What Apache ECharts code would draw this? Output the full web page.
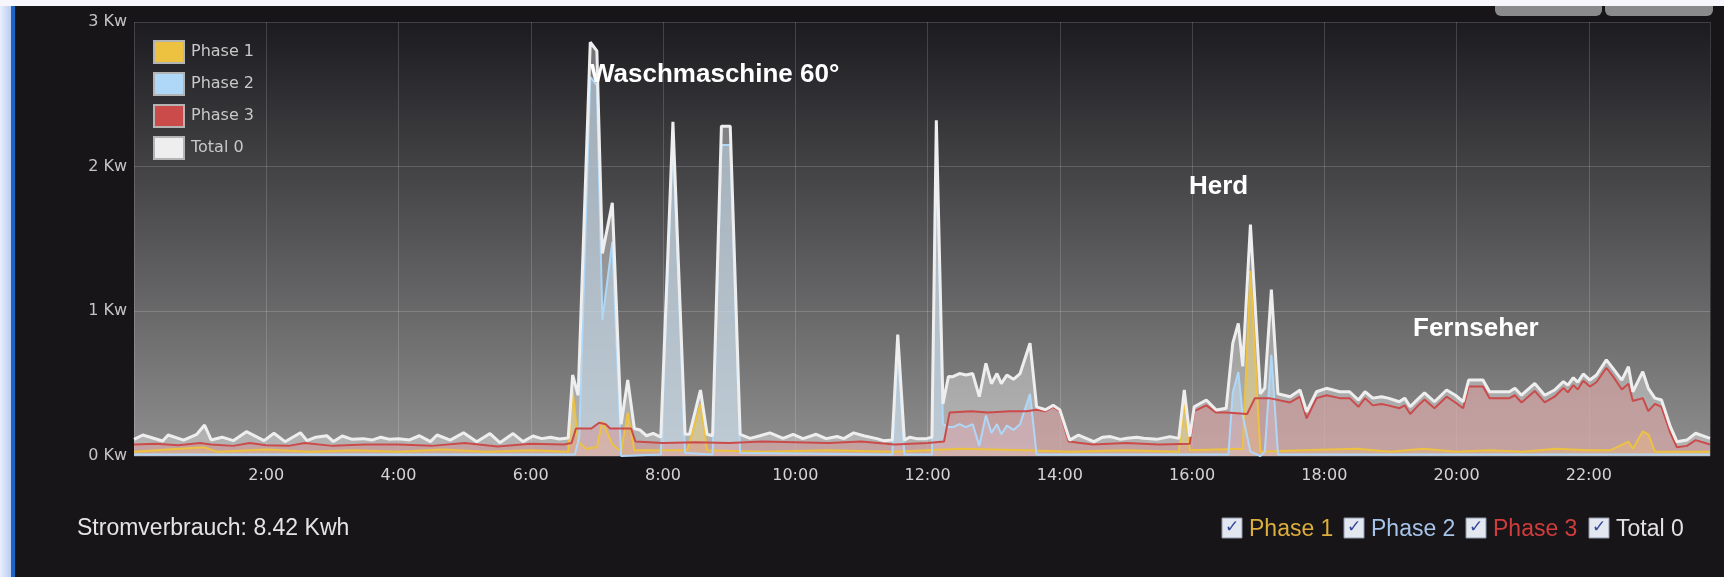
<!DOCTYPE html>
<html>
<head>
<meta charset="utf-8">
<script src="https://cdn.jsdelivr.net/npm/echarts@6/dist/echarts.min.js"></script>
<style>
html,body{margin:0;padding:0;background:#171518;}
#chart{width:1724px;height:577px;}
</style>
</head>
<body>
<div id="chart"></div>
<script>
// ---- data (time "H:MM", kW) ----
const seriesNames = ['Phase 1', 'Phase 2', 'Phase 3', 'Total 0'];
const yTicks = [0, 1, 2, 3];
const xTickHours = [2, 4, 6, 8, 10, 12, 14, 16, 18, 20, 22];
const xStart = '0:00';
const xEnd = '23:50';

const phase1 = [
['0:00',0.03],['0:30',0.045],['1:04',0.06],['1:15',0.03],['2:00',0.045],['2:40',0.03],['3:20',0.04],['4:00',0.03],
['4:40',0.045],['5:20',0.03],['6:00',0.04],['6:34',0.03],['6:38',0.45],['6:43',0.10],['6:50',0.05],['7:00',0.06],
['7:05',0.24],['7:14',0.08],['7:22',0.03],['7:28',0.30],['7:34',0.04],['8:22',0.04],['8:34',0.36],['8:40',0.04],
['9:30',0.03],['10:30',0.04],['11:30',0.03],['12:30',0.05],['13:30',0.04],['14:10',0.03],['15:00',0.04],['15:48',0.03],
['15:53',0.36],['15:58',0.04],['16:46',0.05],['16:53',1.28],['17:02',0.03],['17:40',0.04],['18:30',0.05],['19:00',0.03],
['19:30',0.05],['20:00',0.03],['20:30',0.04],['21:00',0.03],['21:30',0.05],['22:00',0.04],['22:20',0.04],['22:36',0.10],
['22:40',0.05],['22:49',0.17],['22:54',0.15],['23:00',0.03],['23:50',0.03]
];

const phase2 = [
['0:00',0.01],['6:40',0.01],['6:44',0.13],['6:54',2.62],['7:00',2.56],['7:05',0.94],['7:14',1.48],['7:22',0.0],
['7:58',0.01],['8:09',2.18],['8:20',0.02],['8:45',0.01],['8:53',2.15],['9:01',2.15],['9:10',0.02],['11:28',0.01],
['11:33',0.72],['11:39',0.01],['12:04',0.01],['12:08',2.19],['12:14',0.22],['12:19',0.2],['12:23',0.2],['12:29',0.22],
['12:35',0.2],['12:41',0.22],['12:47',0.07],['12:53',0.28],['12:58',0.16],['13:03',0.22],['13:07',0.15],['13:12',0.21],
['13:18',0.18],['13:24',0.22],['13:33',0.43],['13:39',0.01],['16:33',0.01],['16:37',0.44],['16:42',0.58],['16:46',0.28],
['16:53',0.03],['17:02',0.0],['17:06',0.03],['17:12',0.70],['17:18',0.01],['23:50',0.01]
];

const phase3 = [
['0:00',0.08],['0:20',0.085],['0:40',0.075],['1:00',0.09],['1:10',0.08],['1:30',0.07],['1:45',0.09],['2:00',0.075],
['2:20',0.07],['2:35',0.09],['3:00',0.07],['3:30',0.08],['4:00',0.08],['4:30',0.07],['5:00',0.09],['5:30',0.065],
['6:00',0.085],['6:30',0.08],['6:37',0.09],['6:41',0.19],['6:55',0.19],['7:02',0.23],['7:08',0.22],['7:12',0.19],
['7:31',0.19],['7:35',0.10],['8:00',0.09],['8:30',0.095],['9:00',0.09],['9:30',0.1],['10:00',0.095],['10:30',0.09],
['11:00',0.1],['11:30',0.08],['12:00',0.09],['12:15',0.10],['12:20',0.30],['12:40',0.31],['12:55',0.30],['13:15',0.31],
['13:30',0.31],['13:39',0.32],['13:47',0.31],['13:54',0.34],['14:00',0.31],['14:08',0.10],['14:30',0.08],['15:00',0.09],
['15:30',0.08],['15:58',0.085],['16:02',0.31],['16:13',0.35],['16:22',0.30],['16:31',0.30],['16:50',0.29],['16:57',0.40],
['17:10',0.40],['17:29',0.37],['17:38',0.41],['17:44',0.26],['17:53',0.40],['18:02',0.42],['18:14',0.40],['18:23',0.40],
['18:31',0.34],['18:37',0.40],['18:44',0.35],['18:52',0.36],['18:58',0.35],['19:08',0.33],['19:13',0.35],['19:18',0.29],
['19:24',0.34],['19:31',0.39],['19:40',0.33],['19:51',0.41],['19:59',0.37],['20:06',0.33],['20:11',0.48],['20:24',0.48],
['20:30',0.40],['20:48',0.40],['20:53',0.42],['20:59',0.37],['21:11',0.45],['21:20',0.37],['21:29',0.41],['21:37',0.47],
['21:41',0.44],['21:46',0.49],['21:50',0.46],['21:55',0.52],['22:01',0.48],['22:07',0.51],['22:16',0.61],['22:22',0.55],
['22:30',0.46],['22:36',0.50],['22:40',0.38],['22:49',0.40],['22:54',0.31],['23:00',0.36],['23:06',0.34],['23:14',0.16],
['23:20',0.06],['23:29',0.07],['23:37',0.11],['23:50',0.08]
];

const total0 = [
['0:00',0.115],['0:08',0.145],['0:26',0.104],['0:31',0.145],['0:45',0.11],['0:57',0.15],['1:04',0.214],['1:10',0.111],
['1:20',0.13],['1:30',0.106],['1:42',0.168],['1:58',0.106],['2:07',0.157],['2:17',0.099],['2:31',0.161],['2:37',0.106],
['2:45',0.13],['2:55',0.14],['3:01',0.10],['3:09',0.138],['3:18',0.115],['3:28',0.12],['3:36',0.11],['3:44',0.13],
['3:52',0.115],['4:00',0.12],['4:10',0.111],['4:19',0.14],['4:29',0.099],['4:35',0.145],['4:47',0.11],['4:59',0.161],
['5:11',0.099],['5:23',0.155],['5:32',0.092],['5:44',0.155],['5:53',0.099],['6:02',0.138],['6:10',0.12],['6:18',0.13],
['6:26',0.118],['6:34',0.125],['6:38',0.56],['6:43',0.42],['6:54',2.86],['7:00',2.8],['7:05',1.4],['7:14',1.75],
['7:22',0.22],['7:28',0.525],['7:34',0.19],['7:39',0.18],['7:45',0.14],['7:51',0.157],['7:58',0.13],['8:09',2.31],
['8:20',0.15],['8:24',0.15],['8:34',0.456],['8:40',0.15],['8:45',0.14],['8:53',2.28],['9:01',2.28],['9:10',0.15],
['9:19',0.122],['9:28',0.14],['9:37',0.16],['9:49',0.122],['9:58',0.15],['10:07',0.12],['10:19',0.15],['10:28',0.12],
['10:38',0.135],['10:44',0.12],['10:53',0.16],['11:02',0.14],['11:14',0.12],['11:20',0.106],['11:28',0.11],['11:33',0.84],
['11:39',0.11],['11:44',0.13],['11:50',0.12],['11:59',0.12],['12:04',0.13],['12:08',2.32],['12:14',0.36],['12:19',0.55],
['12:23',0.548],['12:29',0.57],['12:35',0.56],['12:41',0.57],['12:47',0.41],['12:53',0.64],['12:58',0.5],['13:03',0.57],
['13:07',0.5],['13:12',0.56],['13:18',0.53],['13:24',0.57],['13:33',0.78],['13:39',0.34],['13:47',0.32],['13:54',0.35],
['14:00',0.32],['14:09',0.11],['14:17',0.145],['14:31',0.10],['14:39',0.13],['14:46',0.134],['14:55',0.115],['15:01',0.122],
['15:10',0.13],['15:16',0.122],['15:28',0.115],['15:40',0.134],['15:48',0.122],['15:53',0.456],['15:58',0.134],['16:02',0.34],
['16:13',0.387],['16:22',0.318],['16:31',0.33],['16:37',0.78],['16:42',0.917],['16:46',0.62],['16:53',1.6],['17:02',0.43],
['17:06',0.47],['17:12',1.15],['17:18',0.43],['17:29',0.41],['17:38',0.456],['17:44',0.306],['17:53',0.444],['18:02',0.468],
['18:14',0.444],['18:23',0.444],['18:31',0.387],['18:37',0.444],['18:44',0.40],['18:52',0.41],['18:58',0.40],['19:08',0.375],
['19:13',0.40],['19:18',0.34],['19:24',0.386],['19:31',0.437],['19:40',0.375],['19:51',0.456],['19:59',0.42],['20:06',0.375],
['20:11',0.525],['20:24',0.525],['20:30',0.444],['20:48',0.444],['20:53',0.468],['20:59',0.42],['21:11',0.502],['21:20',0.42],
['21:29',0.456],['21:37',0.514],['21:41',0.49],['21:46',0.541],['21:50',0.51],['21:55',0.567],['22:01',0.525],['22:07',0.56],
['22:16',0.664],['22:22',0.606],['22:30',0.525],['22:36',0.617],['22:40',0.444],['22:49',0.583],['22:54',0.468],['23:00',0.40],
['23:06',0.387],['23:14',0.203],['23:20',0.099],['23:29',0.11],['23:37',0.157],['23:50',0.122]
];

const annotations = [
  {text: 'Waschmaschine 60°', x: 590, y: 75},
  {text: 'Herd', x: 1189, y: 187},
  {text: 'Fernseher', x: 1413, y: 329}
];
const totalText = 'Stromverbrauch: 8.42 Kwh';
const checkLabels = [
  {text: 'Phase 1', color: '#dcae3c', x: 1222},
  {text: 'Phase 2', color: '#a6c4ea', x: 1344},
  {text: 'Phase 3', color: '#d23c3c', x: 1466},
  {text: 'Total 0', color: '#e2e2e2', x: 1589}
];

// ---- helpers ----
const toH = s => { const p = s.split(':').map(Number); return p[0] + p[1] / 60; };
const toXY = arr => arr.map(d => [toH(d[0]), d[1]]);

const colors = ['#edc240', '#afd8f8', '#cb4b4b', '#eeeeee'];
const areaOp = [0.55, 0.5, 0.45, 0.4];
const dataSets = [phase1, phase2, phase3, total0];

const series = dataSets.map((d, i) => ({
  name: seriesNames[i],
  type: 'line',
  data: toXY(d),
  showSymbol: false,
  symbol: 'none',
  color: colors[i],
  itemStyle: {color: colors[i]},
  lineStyle: {color: colors[i], width: i === 3 ? 3 : 2},
  areaStyle: {color: colors[i], opacity: areaOp[i]},
  animation: false,
  silent: true
}));

const graphics = [];
// page frame decorations
graphics.push({type: 'rect', z: 0, shape: {x: 0, y: 0, width: 11, height: 577},
  style: {fill: {type: 'linear', x: 0, y: 0, x2: 1, y2: 0, colorStops: [{offset: 0, color: '#e9eefc'}, {offset: 1, color: '#b9ccf2'}]}}});
graphics.push({type: 'rect', z: 0, shape: {x: 11, y: 0, width: 4, height: 577}, style: {fill: '#1a66c2'}});
graphics.push({type: 'rect', z: 0, shape: {x: 1495, y: 0, width: 107, height: 16, r: [0, 0, 6, 6]}, style: {fill: '#8a8a8c'}});
graphics.push({type: 'rect', z: 0, shape: {x: 1605, y: 0, width: 108, height: 16, r: [0, 0, 6, 6]}, style: {fill: '#8a8a8c'}});
graphics.push({type: 'rect', z: 1, shape: {x: 0, y: 0, width: 1724, height: 6}, style: {fill: '#f6f6fc'}});
// annotations
annotations.forEach(a => graphics.push({type: 'text', z: 100, x: a.x, y: a.y,
  style: {text: a.text, fill: '#ffffff', font: 'bold 26px "Liberation Sans", Arial, sans-serif', verticalAlign: 'middle', align: 'left'}}));
// bottom texts
graphics.push({type: 'text', z: 100, x: 77, y: 529,
  style: {text: totalText, fill: '#e4e4e4', font: '23px "Liberation Sans", Arial, sans-serif', verticalAlign: 'middle'}});
checkLabels.forEach(c => {
  graphics.push({type: 'rect', z: 100, shape: {x: c.x, y: 518, width: 20, height: 20},
    style: {fill: '#e3e7ef', stroke: '#8e96ac', lineWidth: 1}});
  graphics.push({type: 'text', z: 101, x: c.x + 10, y: 528,
    style: {text: '✓', fill: '#33469a', font: 'bold 17px "DejaVu Sans"', align: 'center', verticalAlign: 'middle'}});
  graphics.push({type: 'text', z: 100, x: c.x + 27, y: 530,
    style: {text: c.text, fill: c.color, font: '23px "Liberation Sans", Arial, sans-serif', verticalAlign: 'middle'}});
});

const chart = echarts.init(document.getElementById('chart'), null, {renderer: 'canvas'});
chart.setOption({
  backgroundColor: '#171518',
  animation: false,
  grid: {
    left: 134, right: 14, top: 22, bottom: 121, show: true, borderWidth: 0,
    backgroundColor: {type: 'linear', x: 0, y: 0, x2: 0, y2: 1,
      colorStops: [{offset: 0, color: '#1c1b1f'}, {offset: 1, color: '#8f8f8f'}]}
  },
  legend: {
    data: seriesNames, orient: 'vertical', left: 148, top: 35,
    icon: 'rect', itemWidth: 30, itemHeight: 22, itemGap: 8,
    itemStyle: {borderColor: '#b4b4b4', borderWidth: 2},
    textStyle: {color: '#c8c8c8', fontSize: 16, fontFamily: 'DejaVu Sans', padding: [0, 0, 0, 2], lineHeight: 20},
    selectedMode: false
  },
  xAxis: {
    type: 'value', min: toH(xStart), max: toH(xEnd), interval: 2,
    axisLine: {show: false}, axisTick: {show: false},
    splitLine: {show: true, lineStyle: {color: 'rgba(255,255,255,0.16)', width: 1}},
    axisLabel: {
      color: '#d4d4d4', fontSize: 16, fontFamily: 'DejaVu Sans', margin: 12,
      formatter: v => (xTickHours.indexOf(Math.round(v * 1000) / 1000) >= 0 ? v + ':00' : '')
    }
  },
  yAxis: {
    type: 'value', min: yTicks[0], max: yTicks[yTicks.length - 1], interval: 1,
    axisLine: {show: false}, axisTick: {show: false},
    splitLine: {show: true, lineStyle: {color: 'rgba(255,255,255,0.16)', width: 1}},
    axisLabel: {color: '#c4c4c4', fontSize: 16, fontFamily: 'DejaVu Sans', margin: 7, formatter: '{value} Kw'}
  },
  series: series,
  graphic: graphics
});
</script>
</body>
</html>
